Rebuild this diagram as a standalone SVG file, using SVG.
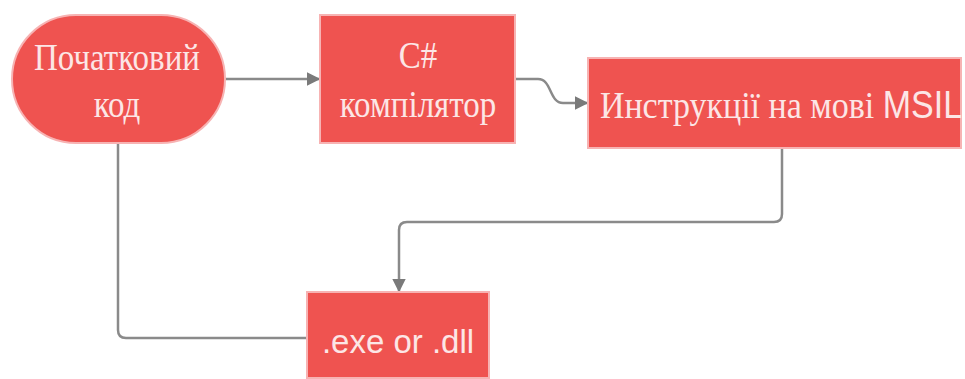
<svg xmlns="http://www.w3.org/2000/svg" width="965" height="379" viewBox="0 0 965 379">
<style>
.node{fill:#ef5350;stroke:#f7b3b3;stroke-width:2}
.t{font-family:"Liberation Serif","Times New Roman",serif;font-size:33px;fill:#fce6e6;text-anchor:middle}
.s{font-family:"Liberation Sans",Arial,sans-serif}
.c{fill:none;stroke:#8a8a8a;stroke-width:2.5}
</style>
<defs>
<marker id="ah" viewBox="0 0 10 10" refX="9" refY="5" markerWidth="5.5" markerHeight="5.5" markerUnits="strokeWidth" orient="auto">
<path d="M0,0 L10,5 L0,10 z" fill="#7a7a7a"/>
</marker>
</defs>
<g id="connectors">
<path class="c" d="M225,79 H319" marker-end="url(#ah)"/>
<path class="c" d="M515,79 H538 C552,79 549,103 563,103 H587" marker-end="url(#ah)"/>
<path class="c" d="M782,148 V214 Q782,222 774,222 H407 Q399,222 399,230 V291" marker-end="url(#ah)"/>
<path class="c" d="M118,143 V330 Q118,338 126,338 H307"/>
</g>
<g id="node-source">
<rect class="node" x="12" y="15" width="213" height="128" rx="64" ry="64"/>
<text class="t" transform="translate(117,70) scale(1,1.12)">Початковий</text>
<text class="t" transform="translate(117,117) scale(1,1.12)">код</text>
</g>
<g id="node-compiler">
<rect class="node" x="320" y="15" width="195" height="128"/>
<text class="t" transform="translate(418,68) scale(1,1.12)">C#</text>
<text class="t" transform="translate(418,117) scale(1,1.12)">компілятор</text>
</g>
<g id="node-msil">
<rect class="node" x="588" y="58" width="373" height="90"/>
<text class="t" transform="translate(781,118) scale(1,1.12)" style="font-size:34px">Инструкції на мові <tspan class="s">MSIL</tspan></text>
</g>
<g id="node-output">
<rect class="node" x="307" y="292" width="182" height="86"/>
<text class="t" x="398" y="353" style="font-family:'Liberation Sans',Arial,sans-serif">.exe or .dll</text>
</g>
</svg>
